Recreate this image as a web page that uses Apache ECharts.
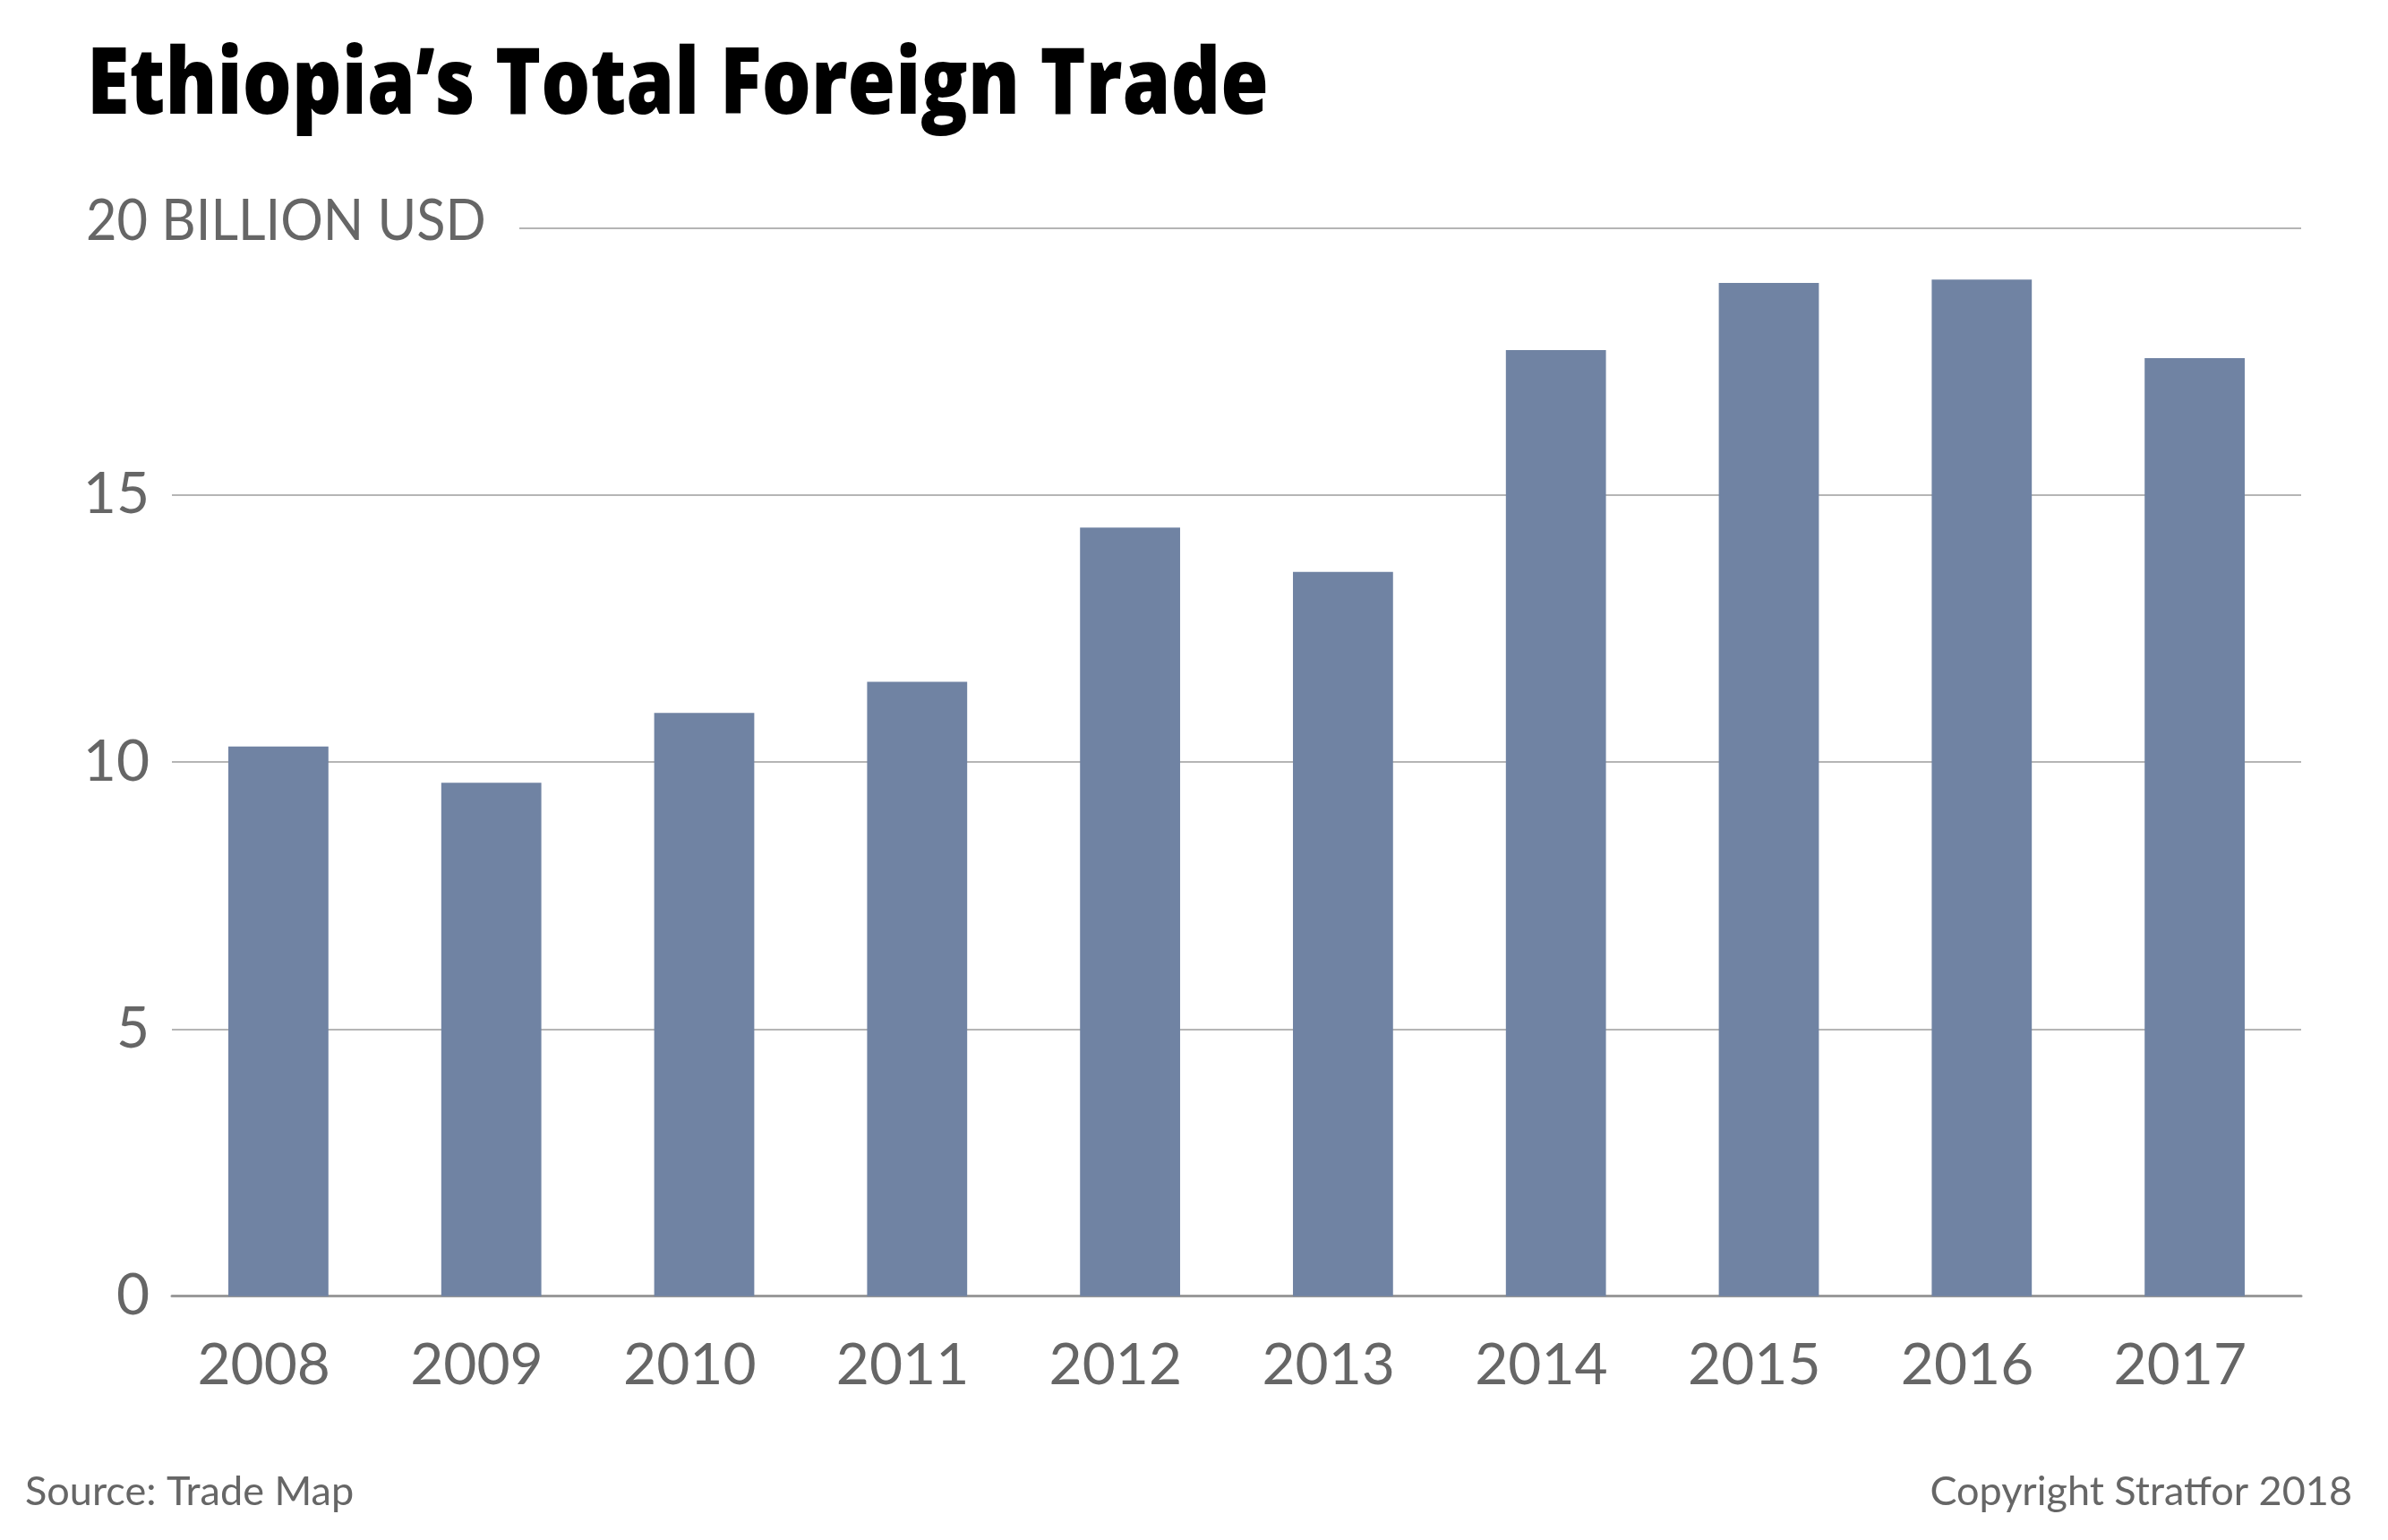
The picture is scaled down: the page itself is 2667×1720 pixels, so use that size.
<!DOCTYPE html>
<html>
<head>
<meta charset="utf-8">
<style>
html,body{margin:0;padding:0;background:#fff;}
#chart{width:2667px;height:1720px;}
</style>
<script src="https://cdn.jsdelivr.net/npm/echarts@6/dist/echarts.min.js"></script>
</head>
<body>
<div id="chart"></div>
<script>
const years = ['2008','2009','2010','2011','2012','2013','2014','2015','2016','2017'];
const totalTrade = [10.29, 9.61, 10.92, 11.50, 14.39, 13.56, 17.71, 18.97, 19.03, 17.56];
const yTicks = [0, 5, 10, 15, 20];
const titleText = 'Ethiopia\u2019s Total Foreign Trade';
const unitText = '20 BILLION USD';
const sourceText = 'Source: Trade Map';
const copyrightText = 'Copyright Stratfor 2018';

const chart = echarts.init(document.getElementById('chart'));
const grey = '#666666';
const option = {
  animation: false,
  backgroundColor: '#ffffff',
  grid: {left: 192, right: 97, top: 254.5, bottom: 272.3, containLabel: false},
  xAxis: {
    type: 'category',
    data: years,
    axisTick: {show: false},
    axisLine: {show: true, lineStyle: {color: '#9a9a9a', width: 3}},
    axisLabel: {
      interval: 0,
      hideOverlap: false,
      color: grey, fontFamily: 'Lato', fontSize: 64, margin: 46,
      formatter: v => '{a|' + v + '}',
      rich: {a: {width: 116, align: 'right', color: grey, fontFamily: 'Lato', fontSize: 64}}
    }
  },
  yAxis: {
    type: 'value',
    min: yTicks[0],
    max: yTicks[yTicks.length - 1],
    interval: 5,
    axisLine: {show: false},
    axisTick: {show: false},
    splitLine: {show: true, lineStyle: {color: '#b5b5b5', width: 2}},
    axisLabel: {
      color: grey, fontFamily: 'Lato', fontSize: 64, margin: 25,
      formatter: v => (v === yTicks[yTicks.length - 1] ? '' : String(v))
    }
  },
  series: [{
    type: 'bar',
    data: totalTrade,
    barWidth: '47%',
    itemStyle: {color: '#7083a3'},
    z: 3
  }],
  graphic: [
    {type: 'rect', z: 100, shape: {x: 185, y: 250, width: 395, height: 9}, style: {fill: '#ffffff'}},
    {type: 'text', z: 101, x: 97, y: 98, scaleX: 0.85,
      style: {text: titleText, font: '800 102px "Open Sans"', fill: '#000000', textAlign: 'left', textVerticalAlign: 'middle'}},
    {type: 'text', z: 101, x: 96, y: 247, scaleX: 0.93,
      style: {text: unitText, font: '64px Lato', fill: grey, textAlign: 'left', textVerticalAlign: 'middle'}},
    {type: 'text', z: 101, x: 28, y: 1666,
      style: {text: sourceText, font: '45px Lato', fill: grey, textAlign: 'left', textVerticalAlign: 'middle'}},
    {type: 'text', z: 101, x: 2627, y: 1666,
      style: {text: copyrightText, font: '45px Lato', fill: grey, textAlign: 'right', textVerticalAlign: 'middle'}}
  ]
};
chart.setOption(option);
</script>
</body>
</html>
